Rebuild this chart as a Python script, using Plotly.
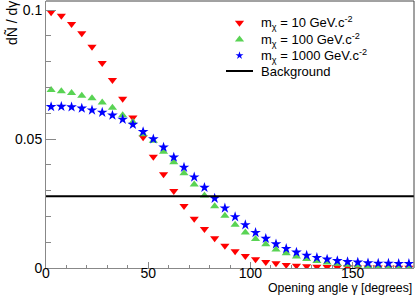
import plotly.graph_objects as go

angles = [2.5 + 5 * i for i in range(36)]

m10 = [0.0991, 0.0978, 0.0946, 0.0910, 0.0858, 0.0795, 0.0729, 0.0656, 0.0583, 0.0507,
       0.0431, 0.0363, 0.0298, 0.0240, 0.0191, 0.0151, 0.0115, 0.0086, 0.0065, 0.0047,
       0.0034, 0.0023, 0.0018, 0.0012, 0.0009, 0.0007, 0.0005, 0.0004, 0.0003, 0.0003,
       0.0002, 0.0002, 0.0002, 0.0001, 0.0001, 0.0001]

m100 = [0.0690, 0.0685, 0.0678, 0.0668, 0.0658, 0.0642, 0.0621, 0.0592, 0.0566, 0.0518,
        0.0493, 0.0451, 0.0410, 0.0367, 0.0324, 0.0281, 0.0239, 0.0203, 0.0168, 0.0138,
        0.0112, 0.0092, 0.0072, 0.0057, 0.0045, 0.0035, 0.0027, 0.0021, 0.0016, 0.0013,
        0.0010, 0.0008, 0.0006, 0.0005, 0.0004, 0.0004]

m1000 = [0.0625, 0.0626, 0.0624, 0.0619, 0.0612, 0.0603, 0.0592, 0.0576, 0.0556, 0.0528,
         0.0500, 0.0468, 0.0429, 0.0390, 0.0352, 0.0312, 0.0270, 0.0232, 0.0198, 0.0167,
         0.0137, 0.0114, 0.0093, 0.0075, 0.0061, 0.0049, 0.0040, 0.0034, 0.0028, 0.0024,
         0.0022, 0.0019, 0.0018, 0.0018, 0.0017, 0.0017]

background_x = [0, 180]
background_y = [0.0278, 0.0278]

names = ["m<sub>χ</sub> = 10 GeV.c<sup>-2</sup>",
         "m<sub>χ</sub> = 100 GeV.c<sup>-2</sup>",
         "m<sub>χ</sub> = 1000 GeV.c<sup>-2</sup>",
         "Background"]

x_ticks = [0, 50, 100, 150]
y_ticks = [0, 0.05, 0.1]
y_ticktext = ["0", "0.05", "0.1"]

# figure geometry (pixels)
W, H = 415, 296
ML, MR, MT, MB = 46, 1, 1, 28
PW, PH = W - ML - MR, H - MT - MB


def px_x(p):
    return (p - ML) / PW


def px_y(p):
    return (H - MB - p) / PH


styles = [dict(symbol="triangle-down", size=8, color="#ff0000"),
          dict(symbol="triangle-up", size=8, color="#59d354"),
          dict(symbol="star", size=8, color="#0000ff")]

fig = go.Figure()
for vals, st, nm in zip([m10, m100, m1000], styles, names[:3]):
    fig.add_trace(go.Scatter(x=angles, y=vals, mode="markers", name=nm,
                             marker=dict(symbol=st["symbol"], size=st["size"], color=st["color"],
                                         line=dict(width=0))))
fig.add_trace(go.Scatter(x=background_x, y=background_y, mode="lines", name=names[3],
                         line=dict(color="black", width=2)))

# legend (drawn manually on an overlay axis in paper units)
leg_rows = [22.7, 39.5, 55.5, 71]
leg_sym_x = 239.5
leg_text_x = 259
leg_sizes = [8, 8, 6]
for i in range(3):
    fig.add_trace(go.Scatter(x=[px_x(leg_sym_x)], y=[px_y(leg_rows[i])], mode="markers",
                             xaxis="x2", yaxis="y2", showlegend=False, hoverinfo="skip",
                             marker=dict(symbol=styles[i]["symbol"], size=leg_sizes[i],
                                         color=styles[i]["color"], line=dict(width=0))))
fig.add_trace(go.Scatter(x=[px_x(226), px_x(253)], y=[px_y(leg_rows[3])] * 2, mode="lines",
                         xaxis="x2", yaxis="y2", showlegend=False, hoverinfo="skip",
                         line=dict(color="black", width=2)))

font = "Liberation Sans, Arial, sans-serif"
for i in range(4):
    fig.add_annotation(text=names[i], xref="paper", yref="paper", x=px_x(leg_text_x),
                       y=px_y(leg_rows[i]), xanchor="left", yanchor="middle", showarrow=False,
                       font=dict(size=13, family=font))

fig.update_layout(
    width=W, height=H,
    margin=dict(l=ML, r=MR, t=MT, b=MB),
    paper_bgcolor="white", plot_bgcolor="white",
    font=dict(family=font, size=14, color="black"),
    showlegend=False,
    xaxis=dict(range=[0, 180], tickvals=x_ticks, ticks="inside", ticklen=6, tickcolor="#888",
               showline=True, linecolor="#888", linewidth=1, showgrid=False, zeroline=False,
               automargin=False, ticklabelstandoff=-8,
               minor=dict(dtick=10, tick0=0, ticks="inside", ticklen=3, tickcolor="#888")),
    yaxis=dict(range=[0, 0.1035], tickvals=y_ticks, ticktext=y_ticktext, ticks="inside",
               ticklen=10, tickcolor="#888", showline=True, linecolor="#888", linewidth=1,
               showgrid=False, zeroline=False, automargin=False,
               minor=dict(dtick=0.01, tick0=0, ticks="inside", ticklen=5, tickcolor="#888")),
    xaxis2=dict(range=[0, 1], overlaying="x", visible=False, fixedrange=True),
    yaxis2=dict(range=[0, 1], overlaying="y", visible=False, fixedrange=True),
)

fig.add_shape(type="line", xref="paper", yref="paper", x0=0, x1=1, y0=1, y1=1,
              line=dict(color="#444", width=1))
fig.add_shape(type="line", xref="paper", yref="paper", x0=1, x1=1, y0=0, y1=1,
              line=dict(color="#444", width=1))

fig.add_annotation(text="Opening angle γ [degrees]", xref="paper", yref="paper",
                   x=1, y=0, yshift=-20, xanchor="right", yanchor="middle",
                   showarrow=False, font=dict(size=12.3, family=font))
fig.add_annotation(text="dÑ / dγ", xref="paper", yref="paper", textangle=-90,
                   x=0, xshift=-34, y=1, yshift=2, xanchor="center", yanchor="top",
                   showarrow=False, font=dict(size=14, family=font))

fig.write_html("out.html", config={"displayModeBar": False},
               post_script="document.body.style.margin='0';document.body.style.padding='0';")
